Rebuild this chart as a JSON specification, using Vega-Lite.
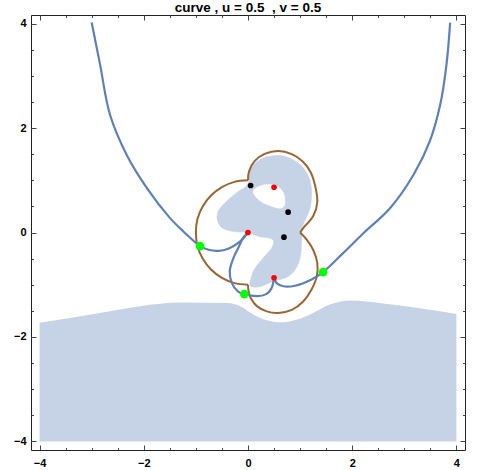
{
  "$schema": "https://vega.github.io/schema/vega-lite/v6.json",
  "width": 434,
  "height": 435,
  "autosize": {"type": "none"},
  "padding": {"left": 31, "top": 15, "right": 19, "bottom": 20},
  "title": {"text": "curve , u = 0.5\u00a0 , v = 0.5", "font": "Liberation Sans", "fontSize": 13.5, "fontWeight": "bold", "color": "#000", "offset": 3, "dy": 13.5, "baseline": "alphabetic", "anchor": "middle", "frame": "group"},
  "datasets": {
    "lower": [
      {"x": -4.0, "y": -1.73}, {"x": -2.84, "y": -1.54}, {"x": -2.07, "y": -1.41}, {"x": -1.3, "y": -1.34},
      {"x": -0.41, "y": -1.35}, {"x": -0.15, "y": -1.41}, {"x": 0.1, "y": -1.57}, {"x": 0.36, "y": -1.68},
      {"x": 0.61, "y": -1.72}, {"x": 0.93, "y": -1.67}, {"x": 1.25, "y": -1.54}, {"x": 1.57, "y": -1.38},
      {"x": 1.96, "y": -1.3}, {"x": 2.28, "y": -1.32}, {"x": 2.91, "y": -1.4}, {"x": 3.55, "y": -1.49}, {"x": 4.0, "y": -1.56}
    ],
    "blob": [
      {"i": 1, "x": 0.0, "y": 0.0}, {"i": 2, "x": -0.28, "y": 0.02}, {"i": 3, "x": -0.5, "y": 0.09},
      {"i": 4, "x": -0.59, "y": 0.25}, {"i": 5, "x": -0.57, "y": 0.41}, {"i": 6, "x": -0.44, "y": 0.57},
      {"i": 7, "x": -0.22, "y": 0.76}, {"i": 8, "x": 0.0, "y": 0.93}, {"i": 9, "x": 0.04, "y": 1.2},
      {"i": 10, "x": 0.23, "y": 1.4}, {"i": 11, "x": 0.49, "y": 1.47}, {"i": 12, "x": 0.74, "y": 1.45},
      {"i": 13, "x": 1.0, "y": 1.3}, {"i": 14, "x": 1.16, "y": 1.08}, {"i": 15, "x": 1.22, "y": 0.82},
      {"i": 16, "x": 1.2, "y": 0.5}, {"i": 17, "x": 1.13, "y": 0.31}, {"i": 18, "x": 1.06, "y": 0.15},
      {"i": 19, "x": 1.03, "y": 0.0}, {"i": 20, "x": 1.03, "y": -0.17}, {"i": 21, "x": 1.0, "y": -0.49},
      {"i": 22, "x": 0.9, "y": -0.72}, {"i": 23, "x": 0.74, "y": -0.86}, {"i": 24, "x": 0.49, "y": -0.93},
      {"i": 25, "x": 0.23, "y": -1.04}, {"i": 26, "x": 0.04, "y": -1.02}, {"i": 27, "x": 0.07, "y": -0.84},
      {"i": 28, "x": 0.13, "y": -0.69}, {"i": 29, "x": 0.29, "y": -0.49}, {"i": 30, "x": 0.45, "y": -0.3},
      {"i": 31, "x": 0.49, "y": -0.17}, {"i": 32, "x": 0.42, "y": -0.11}, {"i": 33, "x": 0.23, "y": -0.08},
      {"i": 34, "x": 0.06, "y": -0.03}
    ],
    "hole": [
      {"i": 1, "x": 0.1, "y": 0.79}, {"i": 2, "x": 0.23, "y": 0.89}, {"i": 3, "x": 0.42, "y": 0.92},
      {"i": 4, "x": 0.58, "y": 0.87}, {"i": 5, "x": 0.68, "y": 0.76}, {"i": 6, "x": 0.71, "y": 0.57},
      {"i": 7, "x": 0.65, "y": 0.47}, {"i": 8, "x": 0.49, "y": 0.49}, {"i": 9, "x": 0.29, "y": 0.57},
      {"i": 10, "x": 0.17, "y": 0.66}
    ],
    "brown": [
      {"s": "a", "i": 1, "x": 0.0, "y": 1.0}, {"s": "a", "i": 2, "x": -0.26, "y": 0.97}, {"s": "a", "i": 3, "x": -0.5, "y": 0.87},
      {"s": "a", "i": 4, "x": -0.71, "y": 0.71}, {"s": "a", "i": 5, "x": -0.87, "y": 0.5}, {"s": "a", "i": 6, "x": -0.97, "y": 0.26},
      {"s": "a", "i": 7, "x": -1.0, "y": 0.0}, {"s": "a", "i": 8, "x": -0.97, "y": -0.26}, {"s": "a", "i": 9, "x": -0.87, "y": -0.5},
      {"s": "a", "i": 10, "x": -0.71, "y": -0.71}, {"s": "a", "i": 11, "x": -0.5, "y": -0.87}, {"s": "a", "i": 12, "x": -0.26, "y": -0.97},
      {"s": "a", "i": 13, "x": 0.0, "y": -1.0},
      {"s": "b", "i": 1, "x": 0.0, "y": -1.0}, {"s": "b", "i": 2, "x": 0.01, "y": -1.12}, {"s": "b", "i": 3, "x": 0.06, "y": -1.27},
      {"s": "b", "i": 4, "x": 0.17, "y": -1.41}, {"s": "b", "i": 5, "x": 0.36, "y": -1.51}, {"s": "b", "i": 6, "x": 0.58, "y": -1.54},
      {"s": "b", "i": 7, "x": 0.84, "y": -1.48}, {"s": "b", "i": 8, "x": 1.06, "y": -1.32}, {"s": "b", "i": 9, "x": 1.22, "y": -1.09},
      {"s": "b", "i": 10, "x": 1.32, "y": -0.84}, {"s": "b", "i": 11, "x": 1.33, "y": -0.58}, {"s": "b", "i": 12, "x": 1.25, "y": -0.33},
      {"s": "b", "i": 13, "x": 1.13, "y": -0.14}, {"s": "b", "i": 14, "x": 1.0, "y": 0.0},
      {"s": "c", "i": 1, "x": 1.0, "y": 0.0}, {"s": "c", "i": 2, "x": 1.09, "y": 0.12}, {"s": "c", "i": 3, "x": 1.25, "y": 0.31},
      {"s": "c", "i": 4, "x": 1.33, "y": 0.58}, {"s": "c", "i": 5, "x": 1.29, "y": 0.89}, {"s": "c", "i": 6, "x": 1.2, "y": 1.16},
      {"s": "c", "i": 7, "x": 1.05, "y": 1.36}, {"s": "c", "i": 8, "x": 0.84, "y": 1.5}, {"s": "c", "i": 9, "x": 0.58, "y": 1.56},
      {"s": "c", "i": 10, "x": 0.33, "y": 1.51}, {"s": "c", "i": 11, "x": 0.13, "y": 1.37}, {"s": "c", "i": 12, "x": 0.02, "y": 1.17},
      {"s": "c", "i": 13, "x": 0.0, "y": 1.0}
    ],
    "blue": [
      {"s": "a", "i": 1, "x": -3.0, "y": 4.02}, {"s": "a", "i": 2, "x": -2.84, "y": 3.22}, {"s": "a", "i": 3, "x": -2.65, "y": 2.26},
      {"s": "a", "i": 4, "x": -2.33, "y": 1.49}, {"s": "a", "i": 5, "x": -1.94, "y": 0.85}, {"s": "a", "i": 6, "x": -1.5, "y": 0.28},
      {"s": "a", "i": 7, "x": -1.24, "y": 0.02}, {"s": "a", "i": 8, "x": -0.92, "y": -0.26}, {"s": "a", "i": 9, "x": -0.76, "y": -0.33},
      {"s": "a", "i": 10, "x": -0.57, "y": -0.35}, {"s": "a", "i": 11, "x": -0.38, "y": -0.31}, {"s": "a", "i": 12, "x": -0.15, "y": -0.17},
      {"s": "a", "i": 13, "x": 0.0, "y": 0.0},
      {"s": "b", "i": 1, "x": 0.0, "y": 0.0}, {"s": "b", "i": 2, "x": -0.09, "y": -0.1}, {"s": "b", "i": 3, "x": -0.19, "y": -0.3},
      {"s": "b", "i": 4, "x": -0.28, "y": -0.49}, {"s": "b", "i": 5, "x": -0.35, "y": -0.74}, {"s": "b", "i": 6, "x": -0.31, "y": -0.97},
      {"s": "b", "i": 7, "x": -0.19, "y": -1.13}, {"s": "b", "i": 8, "x": -0.07, "y": -1.18}, {"s": "b", "i": 9, "x": 0.17, "y": -1.22},
      {"s": "b", "i": 10, "x": 0.35, "y": -1.18}, {"s": "b", "i": 11, "x": 0.45, "y": -1.07}, {"s": "b", "i": 12, "x": 0.5, "y": -0.87},
      {"s": "c", "i": 1, "x": 0.5, "y": -0.87}, {"s": "c", "i": 2, "x": 0.55, "y": -0.97}, {"s": "c", "i": 3, "x": 0.68, "y": -1.03},
      {"s": "c", "i": 4, "x": 0.9, "y": -1.02}, {"s": "c", "i": 5, "x": 1.22, "y": -0.9}, {"s": "c", "i": 6, "x": 1.44, "y": -0.76},
      {"s": "c", "i": 7, "x": 1.83, "y": -0.39}, {"s": "c", "i": 8, "x": 2.22, "y": -0.01}, {"s": "c", "i": 9, "x": 2.73, "y": 0.47},
      {"s": "c", "i": 10, "x": 3.18, "y": 1.11}, {"s": "c", "i": 11, "x": 3.49, "y": 1.75}, {"s": "c", "i": 12, "x": 3.69, "y": 2.45},
      {"s": "c", "i": 13, "x": 3.81, "y": 3.22}, {"s": "c", "i": 14, "x": 3.88, "y": 4.02}
    ],
    "pts": [
      {"set": "A", "x": 0.0, "y": 0.0}, {"set": "A", "x": 0.5, "y": 0.866}, {"set": "A", "x": 0.5, "y": -0.866},
      {"set": "B", "x": 0.05, "y": 0.9}, {"set": "B", "x": 0.77, "y": 0.39}, {"set": "B", "x": 0.69, "y": -0.09},
      {"set": "C", "x": -0.92, "y": -0.26}, {"set": "C", "x": -0.07, "y": -1.18}, {"set": "C", "x": 1.44, "y": -0.76}
    ]
  },
  "resolve": {"axis": {"x": "independent", "y": "independent"}},
  "layer": [
    {
      "data": {"name": "lower"},
      "mark": {"type": "area", "interpolate": "monotone", "fill": "#c6d2e6", "opacity": 1},
      "encoding": {
        "x": {"field": "x", "type": "quantitative",
              "scale": {"domain": [-4.165, 4.165], "nice": false, "zero": false},
              "axis": {"orient": "bottom", "title": null, "domain": false, "grid": false, "minExtent": 0,
                       "values": [-4, -2, 0, 2, 4], "offset": -5, "tickSize": 5, "tickColor": "#444",
                       "labelPadding": 7, "labelFlush": false, "labelOverlap": false, "format": "d",
                       "labelFont": "Liberation Sans", "labelFontWeight": "bold", "labelFontSize": 11, "labelColor": "#000"}},
        "y": {"field": "y", "type": "quantitative",
              "scale": {"domain": [-4.165, 4.165], "nice": false, "zero": false},
              "axis": {"orient": "left", "title": null, "domain": false, "grid": false, "minExtent": 0,
                       "values": [-4, -2, 0, 2, 4], "offset": -5, "tickSize": 5, "tickColor": "#444",
                       "labelPadding": 5, "labelFlush": false, "labelOverlap": false, "format": "d",
                       "labelFont": "Liberation Sans", "labelFontWeight": "bold", "labelFontSize": 11, "labelColor": "#000"}},
        "y2": {"datum": -4}
      }
    },
    {
      "data": {"name": "blob"},
      "mark": {"type": "line", "interpolate": "cardinal-closed", "fill": "#c6d2e6", "stroke": "#c6d2e6", "strokeWidth": 0.5},
      "encoding": {
        "x": {"field": "x", "type": "quantitative",
              "scale": {"domain": [-4.165, 4.165], "nice": false, "zero": false},
              "axis": {"orient": "top", "title": null, "domain": false, "grid": false, "labels": false, "minExtent": 0,
                       "values": [-4, -2, 0, 2, 4], "offset": -5, "tickSize": 5, "tickColor": "#444"}},
        "y": {"field": "y", "type": "quantitative",
              "scale": {"domain": [-4.165, 4.165], "nice": false, "zero": false},
              "axis": {"orient": "right", "title": null, "domain": false, "grid": false, "labels": false, "minExtent": 0,
                       "values": [-4, -2, 0, 2, 4], "offset": -5, "tickSize": 5, "tickColor": "#444"}},
        "order": {"field": "i", "type": "quantitative"}
      }
    },
    {
      "data": {"name": "hole"},
      "mark": {"type": "line", "interpolate": "cardinal-closed", "fill": "#ffffff", "stroke": "#ffffff", "strokeWidth": 0.5},
      "encoding": {
        "x": {"field": "x", "type": "quantitative",
              "axis": {"orient": "bottom", "title": null, "domain": false, "grid": false, "labels": false, "minExtent": 0,
                       "values": [-3.5, -3, -2.5, -1.5, -1, -0.5, 0.5, 1, 1.5, 2.5, 3, 3.5],
                       "offset": -2.5, "tickSize": 2.5, "tickColor": "#444"}},
        "y": {"field": "y", "type": "quantitative",
              "axis": {"orient": "left", "title": null, "domain": false, "grid": false, "labels": false, "minExtent": 0,
                       "values": [-3.5, -3, -2.5, -1.5, -1, -0.5, 0.5, 1, 1.5, 2.5, 3, 3.5],
                       "offset": -2.5, "tickSize": 2.5, "tickColor": "#444"}},
        "order": {"field": "i", "type": "quantitative"}
      }
    },
    {
      "mark": {"type": "rule", "color": "#666666", "strokeWidth": 1},
      "encoding": {"y": {"datum": 0, "type": "quantitative", "axis": null}}
    },
    {
      "mark": {"type": "rule", "color": "#666666", "strokeWidth": 1},
      "encoding": {"x": {"datum": 0, "type": "quantitative", "axis": null}}
    },
    {
      "data": {"name": "brown"},
      "mark": {"type": "line", "interpolate": "catmull-rom", "color": "#996633", "strokeWidth": 2},
      "encoding": {
        "x": {"field": "x", "type": "quantitative",
              "axis": {"orient": "top", "title": null, "domain": false, "grid": false, "labels": false, "minExtent": 0,
                       "values": [-3.5, -3, -2.5, -1.5, -1, -0.5, 0.5, 1, 1.5, 2.5, 3, 3.5],
                       "offset": -2.5, "tickSize": 2.5, "tickColor": "#444"}},
        "y": {"field": "y", "type": "quantitative",
              "axis": {"orient": "right", "title": null, "domain": false, "grid": false, "labels": false, "minExtent": 0,
                       "values": [-3.5, -3, -2.5, -1.5, -1, -0.5, 0.5, 1, 1.5, 2.5, 3, 3.5],
                       "offset": -2.5, "tickSize": 2.5, "tickColor": "#444"}},
        "detail": {"field": "s", "type": "nominal"},
        "order": {"field": "i", "type": "quantitative"}
      }
    },
    {
      "data": {"name": "blue"},
      "mark": {"type": "line", "interpolate": "catmull-rom", "color": "#5e81b5", "strokeWidth": 2.2},
      "encoding": {
        "x": {"field": "x", "type": "quantitative", "axis": null},
        "y": {"field": "y", "type": "quantitative", "axis": null},
        "detail": {"field": "s", "type": "nominal"},
        "order": {"field": "i", "type": "quantitative"}
      }
    },
    {
      "data": {"name": "pts"},
      "transform": [{"filter": "datum.set !== 'C'"}],
      "mark": {"type": "circle", "opacity": 1, "size": 32},
      "encoding": {
        "x": {"field": "x", "type": "quantitative", "axis": null},
        "y": {"field": "y", "type": "quantitative", "axis": null},
        "color": {"field": "set", "type": "nominal", "legend": null,
                  "scale": {"domain": ["A", "B", "C"], "range": ["#ff0000", "#000000", "#00ff00"]}}
      }
    },
    {
      "data": {"name": "pts"},
      "transform": [{"filter": "datum.set === 'C'"}],
      "mark": {"type": "circle", "opacity": 1, "size": 75},
      "encoding": {
        "x": {"field": "x", "type": "quantitative", "axis": null},
        "y": {"field": "y", "type": "quantitative", "axis": null},
        "color": {"field": "set", "type": "nominal", "legend": null,
                  "scale": {"domain": ["A", "B", "C"], "range": ["#ff0000", "#000000", "#00ff00"]}}
      }
    }
  ],
  "config": {
    "view": {"stroke": "#222222", "strokeWidth": 1},
    "background": "#ffffff"
  }
}
